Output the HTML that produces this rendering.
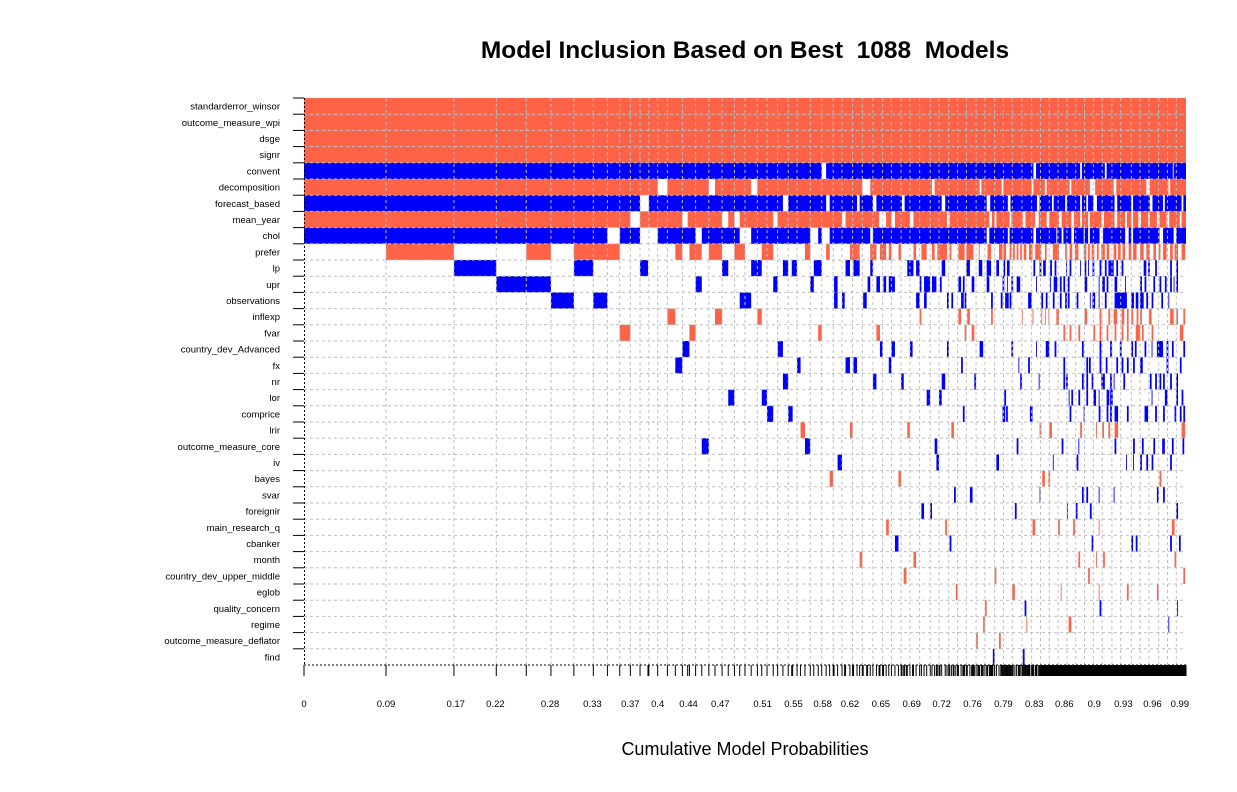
<!DOCTYPE html>
<html><head><meta charset="utf-8"><title>Model Inclusion</title>
<style>
html,body{margin:0;padding:0;background:#fff;}
svg text{font-family:"Liberation Sans",Arial,sans-serif;}
</style></head>
<body>
<svg id="chart" width="1237" height="787" viewBox="0 0 1237 787" xmlns="http://www.w3.org/2000/svg">
<text x="745" y="58" text-anchor="middle" font-size="24.5" font-weight="bold" fill="#000" style="white-space:pre" xml:space="preserve">Model Inclusion Based on Best  1088  Models</text>
<text x="745" y="755" text-anchor="middle" font-size="18" fill="#000">Cumulative Model Probabilities</text>
<g id="cells"></g><g id="grid"></g><g id="axes"></g>
</svg>
<script>
const variables = ["standarderror_winsor","outcome_measure_wpi","dsge","signr","convent","decomposition","forecast_based","mean_year","chol","prefer","lp","upr","observations","inflexp","fvar","country_dev_Advanced","fx","nr","lor","comprice","lrir","outcome_measure_core","iv","bayes","svar","foreignir","main_research_q","cbanker","month","country_dev_upper_middle","eglob","quality_concern","regime","outcome_measure_deflator","find"];
const signs = [-1,-1,-1,-1,1,-1,1,-1,1,-1,1,1,1,-1,-1,1,1,1,1,1,-1,1,1,-1,1,1,-1,1,-1,-1,-1,1,-1,-1,1];
// rows included in (almost) all models: exclusion gaps in cumulative probability
const gapsConvent = [[.587,.592],[.827,.830],[.880,.882],[.908,.910],[.985,.986]];
const gapsDecomposition = [[.401,.412],[.459,.466],[.507,.514],[.633,.642],[.712,.715],[.766,.768],[.791,.793],[.825,.827],[.840,.842],[.868,.870],[.891,.897],[.918,.921],[.955,.959],[.980,.982]];
const gapsForecast = [[.381,.391],[.543,.549],[.592,.596],[.627,.630],[.645,.649],[.678,.681],[.723,.727],[.774,.778],[.798,.801],[.831,.834],[.848,.850],[.863,.865],[.880,.882],[.887,.889],[.895,.899],[.919,.922],[.938,.940],[.959,.962],[.974,.976],[.995,.997]];
const gapsMeanYear = [[.370,.381],[.429,.435],[.474,.481],[.488,.494],[.532,.537],[.610,.614],[.652,.660],[.666,.670],[.687,.691],[.729,.732],[.777,.780],[.783,.785],[.800,.802],[.815,.818],[.829,.833],[.842,.845],[.856,.859],[.870,.873],[.880,.882],[.889,.891],[.904,.907],[.919,.922],[.931,.933],[.938,.940],[.946,.949],[.957,.959],[.967,.970],[.978,.981],[.993,.995]];
const gapsChol = [[.344,.358],[.381,.401],[.444,.451],[.494,.507],[.574,.583],[.587,.596],[.642,.645],[.774,.777],[.798,.800],[.827,.830],[.853,.854],[.859,.861],[.870,.873],[.884,.885],[.889,.891],[.902,.906],[.931,.935],[.938,.940],[.970,.974],[.986,.989]];
// inclusion intervals in cumulative probability for the other variables
const incPrefer = [[.093,.170],[.252,.280],[.306,.358],[.421,.429],[.437,.451],[.459,.474],[.488,.500],[.519,.532],[.568,.574],[.592,.596],[.619,.630],[.642,.649],[.653,.660],[.663,.666],[.674,.677],[.691,.694],[.700,.706],[.712,.715],[.718,.729],[.732,.734],[.742,.749],[.751,.759],[.765,.766],[.775,.779],[.788,.792],[.793,.796],[.800,.802],[.804,.806],[.808,.810],[.812,.814],[.816,.819],[.822,.826],[.829,.834],[.834,.836],[.840,.842],[.849,.856],[.863,.865],[.868,.871],[.874,.878],[.884,.887],[.889,.891],[.893,.896],[.899,.901],[.904,.908],[.910,.913],[.918,.921],[.923,.926],[.928,.931],[.935,.938],[.940,.944],[.948,.952],[.955,.959],[.963,.966],[.969,.971],[.974,.978],[.982,.985],[.987,.991],[.995,.999]];
const incLp = [[.170,.218],[.306,.328],[.381,.390],[.474,.481],[.507,.519],[.543,.549],[.553,.559],[.578,.587],[.614,.619],[.623,.630],[.642,.645],[.684,.691],[.694,.698],[.723,.727],[.751,.755],[.765,.769],[.774,.779],[.785,.788],[.793,.795],[.797,.800],[.827,.829],[.834,.836],[.838,.841],[.846,.848],[.851,.853],[.864,.865],[.868,.870],[.880,.881],[.885,.887],[.889,.890],[.894,.896],[.902,.904],[.908,.910],[.912,.918],[.921,.923],[.927,.929],[.952,.955],[.957,.959],[.965,.967],[.982,.984],[.989,.991]];
const incUpr = [[.218,.280],[.444,.451],[.532,.537],[.574,.578],[.601,.605],[.639,.642],[.649,.653],[.657,.660],[.663,.670],[.698,.700],[.703,.710],[.712,.717],[.721,.723],[.742,.745],[.747,.749],[.757,.760],[.774,.777],[.792,.794],[.797,.798],[.802,.804],[.808,.812],[.830,.831],[.846,.847],[.850,.854],[.857,.859],[.861,.863],[.866,.868],[.885,.888],[.901,.902],[.905,.908],[.910,.912],[.919,.922],[.931,.932],[.948,.950],[.953,.955],[.963,.965],[.970,.972],[.976,.978],[.982,.984],[.986,.987],[.989,.991]];
const incObservations = [[.280,.306],[.328,.344],[.494,.507],[.601,.605],[.610,.613],[.634,.638],[.694,.698],[.703,.706],[.729,.731],[.734,.736],[.745,.748],[.749,.751],[.779,.781],[.790,.792],[.795,.799],[.800,.802],[.821,.825],[.836,.838],[.841,.843],[.849,.851],[.857,.859],[.863,.865],[.866,.868],[.876,.878],[.891,.892],[.894,.897],[.901,.902],[.908,.910],[.919,.933],[.938,.941],[.943,.946],[.948,.952],[.955,.957],[.961,.963],[.972,.974],[.980,.981]];
const incInflexp = [[.412,.421],[.466,.474],[.514,.519],[.698,.700],[.742,.745],[.752,.755],[.779,.781],[.814,.815],[.826,.827],[.836,.837],[.840,.841],[.844,.845],[.853,.856],[.885,.888],[.902,.904],[.912,.914],[.918,.922],[.927,.930],[.933,.935],[.938,.940],[.944,.946],[.948,.950],[.958,.961],[.982,.986],[.989,.991],[.997,.999]];
const incFvar = [[.358,.370],[.437,.444],[.583,.587],[.649,.653],[.749,.751],[.757,.760],[.861,.863],[.868,.870],[.878,.880],[.895,.897],[.902,.904],[.910,.912],[.919,.921],[.927,.929],[.933,.935],[.943,.948],[.950,.952],[.961,.963],[.993,.997]];
const incCountryAdv = [[.429,.437],[.537,.543],[.653,.656],[.666,.670],[.687,.690],[.729,.731],[.766,.770],[.802,.804],[.830,.831],[.841,.845],[.851,.853],[.882,.884],[.902,.904],[.914,.916],[.925,.927],[.938,.940],[.942,.944],[.953,.955],[.961,.962],[.967,.974],[.978,.980],[.984,.986],[.997,.999]];
const incFx = [[.421,.429],[.559,.563],[.614,.619],[.623,.627],[.663,.666],[.745,.747],[.810,.811],[.821,.823],[.861,.863],[.887,.889],[.890,.892],[.902,.904],[.909,.911],[.921,.923],[.927,.929],[.933,.935],[.940,.942],[.948,.951],[.978,.980],[.993,.995]];
const incNr = [[.543,.549],[.645,.649],[.677,.680],[.723,.727],[.760,.762],[.812,.814],[.833,.834],[.861,.863],[.864,.866],[.882,.884],[.887,.889],[.893,.895],[.904,.908],[.914,.916],[.918,.919],[.929,.931],[.959,.961],[.965,.967],[.970,.972],[.974,.976],[.982,.984],[.989,.991]];
const incLor = [[.481,.488],[.519,.525],[.706,.710],[.720,.723],[.794,.796],[.867,.868],[.870,.872],[.878,.880],[.887,.889],[.895,.898],[.901,.902],[.910,.913],[.914,.917],[.961,.962],[.976,.979],[.989,.991],[.995,.997]];
const incComprice = [[.525,.532],[.549,.554],[.747,.749],[.792,.795],[.796,.798],[.823,.826],[.868,.870],[.884,.885],[.901,.903],[.910,.912],[.914,.916],[.919,.923],[.933,.935],[.953,.957],[.965,.967],[.974,.976],[.987,.989],[.993,.995],[.997,.999]];
const incLrir = [[.563,.568],[.619,.622],[.684,.687],[.734,.737],[.834,.836],[.845,.848],[.880,.882],[.898,.899],[.905,.907],[.912,.914],[.919,.923],[.995,.999]];
const incOutcomeCore = [[.451,.459],[.568,.574],[.715,.718],[.808,.810],[.859,.861],[.878,.879],[.919,.921],[.940,.942],[.950,.952],[.963,.965],[.973,.976],[.984,.986],[.996,.998]];
const incIv = [[.605,.610],[.717,.720],[.785,.788],[.849,.850],[.876,.878],[.932,.933],[.940,.941],[.948,.950],[.955,.957],[.961,.963],[.982,.984]];
const incBayes = [[.596,.600],[.674,.677],[.837,.840],[.844,.846],[.970,.972]];
const incSvar = [[.737,.739],[.755,.758],[.834,.835],[.882,.884],[.887,.889],[.901,.902],[.918,.919],[.967,.969],[.974,.976]];
const incForeignir = [[.700,.703],[.710,.712],[.806,.808],[.865,.866],[.875,.877],[.891,.893],[.989,.991]];
const incMainResearch = [[.660,.663],[.727,.729],[.826,.829],[.855,.857],[.872,.874],[.901,.902],[.984,.987]];
const incCbanker = [[.670,.674],[.732,.734],[.893,.895],[.938,.940],[.943,.945],[.982,.984],[.992,.994]];
const incMonth = [[.630,.633],[.691,.694],[.878,.880],[.898,.899],[.906,.908],[.987,.989]];
const incCountryUM = [[.680,.683],[.783,.785],[.889,.891],[.997,.999]];
const incEglob = [[.739,.741],[.803,.806],[.858,.859],[.901,.902],[.933,.935],[.967,.969]];
const incQuality = [[.772,.774,-1],[.817,.819],[.902,.904],[.990,.991]];
const incRegime = [[.770,.772],[.819,.820],[.867,.870],[.980,.981,1]];
const incDeflator = [[.762,.764],[.788,.790]];
const incFind = [[.781,.783],[.815,.817]];
const tickLabels = ["0","0.09","0.17","0.22","0.28","0.33","0.37","0.4","0.44","0.47","0.51","0.55","0.58","0.62","0.65","0.69","0.72","0.76","0.79","0.83","0.86","0.9","0.93","0.96","0.99"];
const tickCum = [0,.093,.172,.217,.279,.327,.370,.401,.436,.472,.520,.555,.588,.619,.654,.689,.723,.758,.793,.828,.862,.896,.929,.962,.993];

const NS="http://www.w3.org/2000/svg";
const X0=304, W=882, Y0=98, RH=16.2, NR=variables.length;
const xs = p => X0 + p*W;
const ys = i => Y0 + i*RH;
function complement(g){const out=[];let s=0;g.forEach(([a,b])=>{if(a>s)out.push([s,a]);s=b;});if(s<1)out.push([s,1]);return out;}
const full=[[0,1]];
const rowData=[full,full,full,full,complement(gapsConvent),complement(gapsDecomposition),complement(gapsForecast),complement(gapsMeanYear),complement(gapsChol),incPrefer,incLp,incUpr,incObservations,incInflexp,incFvar,incCountryAdv,incFx,incNr,incLor,incComprice,incLrir,incOutcomeCore,incIv,incBayes,incSvar,incForeignir,incMainResearch,incCbanker,incMonth,incCountryUM,incEglob,incQuality,incRegime,incDeflator,incFind];
function mk(tag,attrs,parent){const e=document.createElementNS(NS,tag);for(const k in attrs)e.setAttribute(k,attrs[k]);parent.appendChild(e);return e;}
const cells=document.getElementById('cells'), grid=document.getElementById('grid'), axes=document.getElementById('axes');
const bounds=new Set();
rowData.forEach((segs,i)=>{
  segs.forEach(s=>{
    const sg = s.length>2 ? s[2] : signs[i];
    bounds.add(s[0]); bounds.add(s[1]);
    const r=mk('rect',{x:xs(s[0]),y:ys(i),width:Math.max(0.8,xs(s[1])-xs(s[0])),height:RH,fill:sg>0?'#0000FF':'#FF6347'},cells);
    
    
  });
});
const bl=[...bounds].sort((a,b)=>a-b);
for(let i=1;i<NR;i++){const l=mk('line',{x1:X0,x2:X0+W,y1:ys(i),y2:ys(i),stroke:'#BEBEBE','stroke-dasharray':'3,3','stroke-width':1},grid);
 
 }
let last=-1;
bl.forEach(p=>{const x=xs(p);if(x-last<8||x<X0+2||x>X0+W-2)return;last=x;
 const l=mk('line',{x1:x,x2:x,y1:Y0,y2:Y0+NR*RH,stroke:'#BEBEBE','stroke-dasharray':'3,3','stroke-width':1},grid);
 
 });
const yb=Y0+NR*RH;
let a=mk('line',{x1:X0,x2:X0+W,y1:yb,y2:yb,stroke:'#000','stroke-dasharray':'2,2'},axes);


a=mk('line',{x1:X0+0.5,x2:X0+0.5,y1:Y0,y2:yb,stroke:'#000','stroke-dasharray':'2,2'},axes);


[0,...bl].forEach(p=>{const t=mk('line',{x1:xs(p),x2:xs(p),y1:yb,y2:yb+11,stroke:'#000','stroke-width':1},axes);
 
 });
const dense=mk('rect',{x:xs(.835),y:yb,width:X0+W-xs(.835),height:11,fill:'#000'},axes);


tickLabels.forEach((lab,k)=>{const t=mk('text',{x:xs(tickCum[k]),y:707,'text-anchor':'middle','font-size':9.5,fill:'#000'},axes);t.textContent=lab;
 
 });
variables.forEach((v,i)=>{
 const tk=mk('line',{x1:293,x2:X0,y1:ys(i),y2:ys(i),stroke:'#000'},axes);
 
 
 const t=mk('text',{x:280,y:ys(i)+RH/2+3.5,'text-anchor':'end','font-size':9.5,fill:'#000'},axes);t.textContent=v;
 
 
});
</script>
</body></html>
